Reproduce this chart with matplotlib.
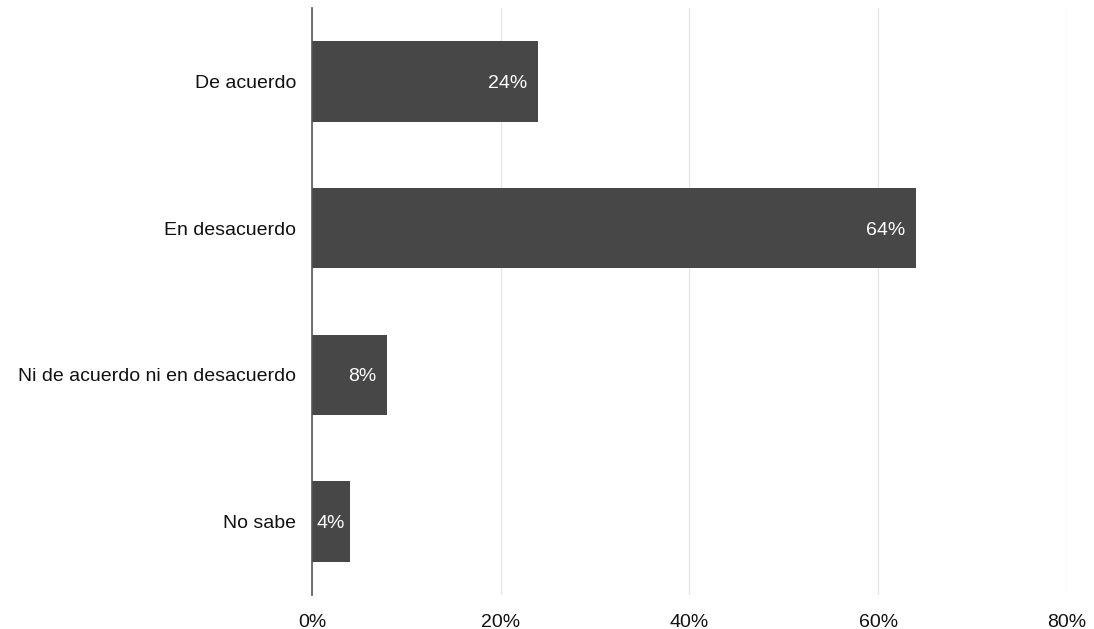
import matplotlib
matplotlib.use("Agg")
import matplotlib.pyplot as plt

plt.rcParams['font.family'] = ['Liberation Sans', 'DejaVu Sans']

categories = ['De acuerdo', 'En desacuerdo', 'Ni de acuerdo ni en desacuerdo', 'No sabe']
values = [24, 64, 8, 4]
xticks = [0, 20, 40, 60, 80]

bar_color = '#474747'
fs = 14

fig = plt.figure(figsize=(10.94, 6.29), dpi=100)
ax = fig.add_axes([312 / 1094, 1 - 595 / 629, (1067 - 312) / 1094, 587 / 629])

ypos = list(range(len(categories)))
ax.barh(ypos, values, height=0.55, color=bar_color, zorder=2)

# value labels sit inside the bar end; narrow bars get a centred label
for y, v in zip(ypos, values):
    if v < 6:
        ax.text(v / 2, y, f'{v}%', color='white', fontsize=fs,
                ha='center', va='center_baseline', zorder=3)
    else:
        ax.text(v - 1.15, y, f'{v}%', color='white', fontsize=fs,
                ha='right', va='center_baseline', zorder=3)

ax.set_ylim(len(categories) - 0.5, -0.5)
ax.set_xlim(0, 80)
ax.set_yticks(ypos)
ax.set_yticklabels(categories, fontsize=fs, color='#111111')
ax.set_xticks(xticks)
ax.set_xticklabels([f'{t}%' for t in xticks], fontsize=fs, color='#111111')
ax.tick_params(length=0)
ax.tick_params(axis='y', pad=11.5)
ax.tick_params(axis='x', pad=13.5)

ax.grid(axis='x', color='#e6e6e6', linewidth=1, zorder=0)
for side in ['top', 'right', 'bottom']:
    ax.spines[side].set_visible(False)
ax.spines['left'].set_color('#555555')
ax.spines['left'].set_linewidth(1.2)
ax.spines['left'].set_zorder(4)

fig.savefig('out.png', dpi=100)
